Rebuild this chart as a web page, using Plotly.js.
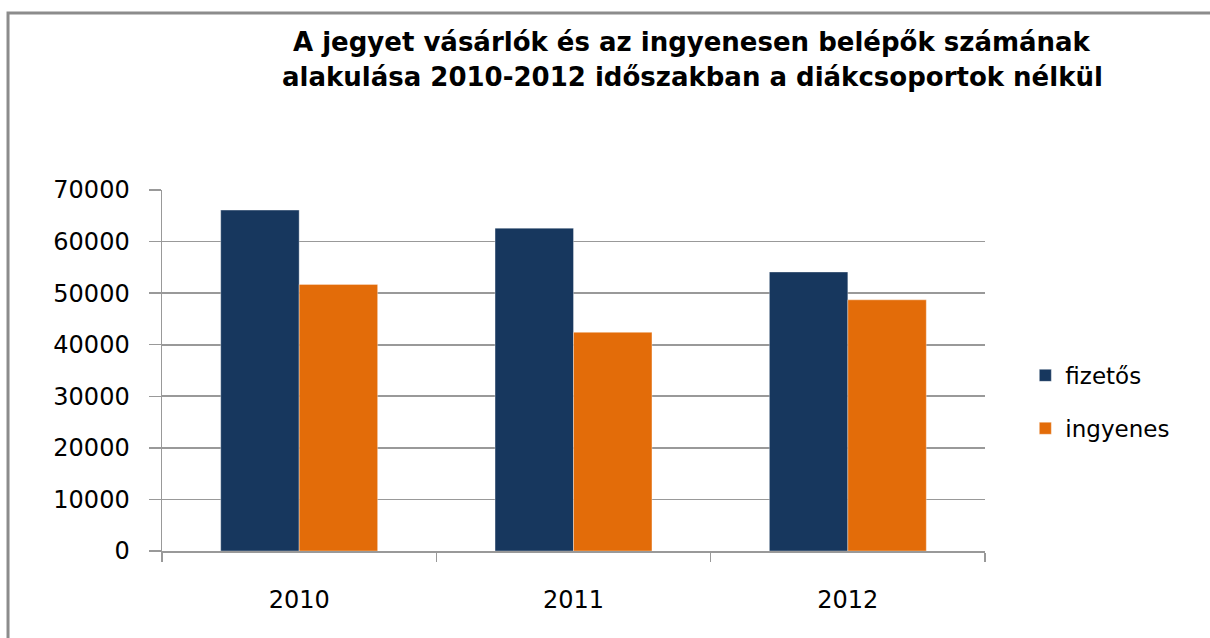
<!DOCTYPE html>
<html>
<head>
<meta charset="utf-8">
<script src="https://cdn.plot.ly/plotly-3.0.1.min.js"></script>
<style>html,body{margin:0;padding:0;background:#fff;}#chart{width:1210px;height:638px;}</style>
</head>
<body>
<div id="chart"></div>
<script>
const years = ['2010', '2011', '2012'];
const fizetos = [66100, 62600, 54100];
const ingyenes = [51700, 42400, 48700];
const seriesNames = ['fizetős', 'ingyenes'];
const yTicks = [0, 10000, 20000, 30000, 40000, 50000, 60000, 70000];
const titleLines = ['A jegyet vásárlók és az ingyenesen belépők számának',
                    'alakulása 2010-2012 időszakban a diákcsoportok nélkül'];

const FONT = 'DejaVu Sans, Verdana, sans-serif';
const GRID = '#999999';

const traces = [
  {type: 'bar', x: years, y: fizetos, name: seriesNames[0], legendgroup: 'a',
   marker: {color: '#17375E', line: {color: 'rgba(255,255,255,0.35)', width: 1}}},
  {type: 'bar', x: years, y: ingyenes, name: seriesNames[1], legendgroup: 'b',
   marker: {color: '#E36C09', line: {color: 'rgba(255,255,255,0.35)', width: 1}}}
];

const titleFont = {family: 'DejaVu Sans, sans-serif', size: 26, color: '#000', weight: 'bold'};

const layout = {
  width: 1210, height: 638,
  margin: {l: 162, r: 225, t: 190, b: 87, pad: 0},
  paper_bgcolor: '#fff', plot_bgcolor: '#fff',
  font: {family: FONT, color: '#000'},
  barmode: 'group', bargap: 0.428, bargroupgap: 0,
  xaxis: {
    type: 'category', showline: true, linecolor: GRID, linewidth: 1.5,
    ticks: 'outside', tickson: 'boundaries', ticklen: 9, tickcolor: GRID, tickwidth: 1.5,
    tickfont: {family: FONT, size: 24, color: '#000'}, ticklabelstandoff: 27,
    showgrid: false, zeroline: false, fixedrange: true
  },
  yaxis: {
    range: [0, 70000], tickvals: yTicks, ticktext: yTicks.map(String),
    showline: true, linecolor: GRID, linewidth: 1.5,
    ticks: 'outside', ticklen: 12, tickcolor: GRID, tickwidth: 1.5,
    tickfont: {family: FONT, size: 24, color: '#000'}, ticklabelstandoff: 14,
    showgrid: true, gridcolor: GRID, gridwidth: 1.8, zeroline: false, fixedrange: true
  },
  showlegend: true,
  legend: {
    x: 1.049, xanchor: 'left', y: 0.413, yanchor: 'middle',
    font: {family: FONT, size: 23, color: '#000'},
    tracegroupgap: 20, itemwidth: 30, bgcolor: 'rgba(0,0,0,0)'
  },
  annotations: [
    {text: titleLines[0], xref: 'paper', yref: 'paper', x: 0.644, y: 1.41,
     xanchor: 'center', yanchor: 'middle', showarrow: false, font: titleFont},
    {text: titleLines[1], xref: 'paper', yref: 'paper', x: 0.644, y: 1.313,
     xanchor: 'center', yanchor: 'middle', showarrow: false, font: titleFont}
  ],
  shapes: [
    {type: 'path', xref: 'paper', yref: 'paper',
     path: 'M -0.1871,-0.3 L -0.1871,1.4903 L 1.3,1.4903',
     line: {color: '#8c8c8c', width: 3}}
  ]
};

Plotly.newPlot('chart', traces, layout, {displayModeBar: false, staticPlot: true});
</script>
</body>
</html>
